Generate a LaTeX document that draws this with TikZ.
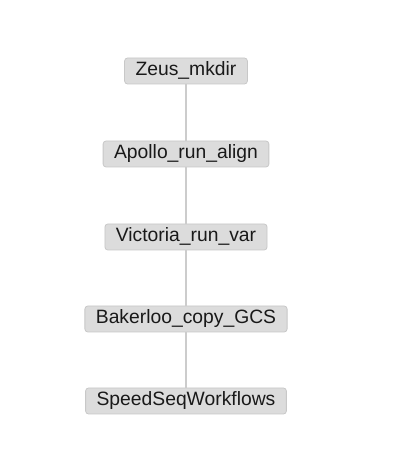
\documentclass[tikz,border=0pt]{standalone}
\usepackage{fontspec}
\setmainfont{Liberation Sans}
\definecolor{boxfill}{HTML}{DCDCDC}
\definecolor{boxline}{HTML}{C8C8C8}
\definecolor{edgecol}{HTML}{CCCCCC}
\begin{document}
\begin{tikzpicture}[x=1pt,y=1pt,
  jobbox/.style={draw=boxline, fill=boxfill, line width=0.8pt, rounded corners=3pt,
    minimum height=26pt, inner xsep=11pt, inner ysep=0pt,
    text height=0.98em, text depth=0.02em,
    font=\fontsize{19.3}{21}\selectfont, text=black!90},
  edge/.style={draw=edgecol, line width=2pt}]
\useasboundingbox[fill=white] (0,0) rectangle (406,451);
\node[jobbox] (z) at (186,380) {Zeus\_mkdir};
\node[jobbox] (a) at (186,297) {Apollo\_run\_align};
\node[jobbox] (v) at (186,214) {Victoria\_run\_var};
\node[jobbox] (b) at (186,132) {Bakerloo\_copy\_GCS};
\node[jobbox] (s) at (186,50) {SpeedSeqWorkflows};
\draw[edge] (z) -- (a);
\draw[edge] (a) -- (v);
\draw[edge] (v) -- (b);
\draw[edge] (b) -- (s);
\end{tikzpicture}
\end{document}
